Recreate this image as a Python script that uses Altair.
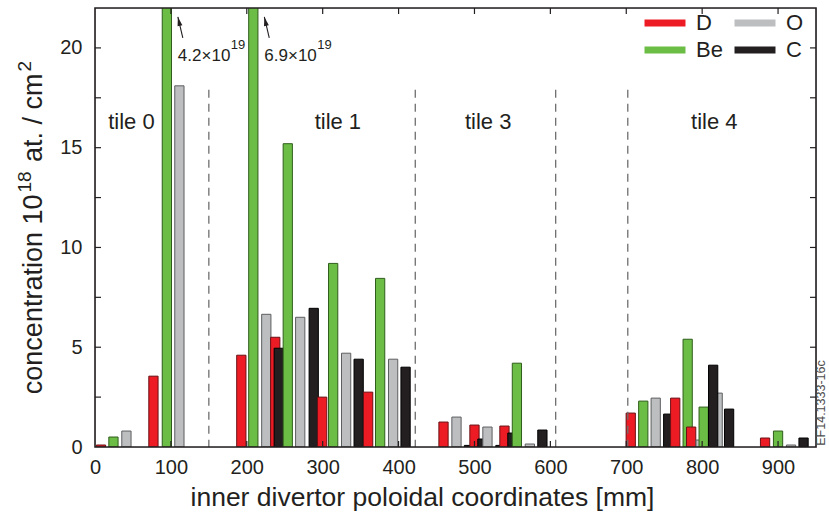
import altair as alt
import pandas as pd

# Species, in legend order (filled column by column: D/Be left, O/C right)
species = ["D", "Be", "O", "C"]
fill_colors = ["#ed1c24", "#6cbd45", "#bcbec0", "#231f20"]
edge_colors = ["#6b1014", "#2f5e1c", "#5d5e60", "#000000"]

# Poloidal position [mm] and areal concentration [1e18 at./cm^2]
d_pos = [7.9, 77.0, 192.8, 237.5, 299.3, 359.9, 459.2, 500.0, 539.5, 705.9, 764.5, 785.5, 882.9]
d_val = [0.1, 3.55, 4.6, 5.5, 2.5, 2.75, 1.25, 1.1, 1.05, 1.7, 2.45, 1.0, 0.45]
be_pos = [24.3, 94.7, 208.6, 254.0, 313.8, 375.7, 555.9, 722.4, 780.9, 802.0, 900.0]
be_val = [0.5, 42.0, 69.0, 15.2, 9.2, 8.45, 4.2, 2.3, 5.4, 2.0, 0.8]
o_pos = [41.4, 111.2, 225.7, 270.4, 330.9, 392.8, 476.3, 517.1, 573.0, 738.8, 798.0, 820.4, 917.1]
o_val = [0.8, 18.1, 6.65, 6.5, 4.7, 4.4, 1.5, 1.0, 0.15, 2.45, 0.35, 2.7, 0.1]
c_pos = [242.1, 288.2, 347.4, 409.2, 492.8, 510.5, 534.2, 550.0, 589.5, 755.3, 814.5, 835.5, 933.6]
c_val = [4.95, 6.95, 4.4, 4.0, 0.08, 0.4, 0.08, 0.7, 0.85, 1.65, 4.1, 1.9, 0.45]

# Tile boundaries and tile names
tile_bounds = [150, 422, 607, 702]
tile_names = ["tile 0", "tile 1", "tile 3", "tile 4"]
tile_centers = [48, 320, 518, 816]

# Axis ticks
x_ticks = [0, 100, 200, 300, 400, 500, 600, 700, 800, 900]
y_ticks = [0, 5, 10, 15, 20]
x_minor = [100, 200, 300, 400, 500, 600, 700, 800, 900]
y_minor = [2.5, 5, 7.5, 10, 12.5, 15, 17.5, 20]

# y title pieces: (text, superscript?, word space before it?)
y_title = [("concentration 10", False, False), ("18", True, False),
           ("at. / cm", False, True), ("2", True, False)]

W, H = 721, 439
FONT = "Liberation Sans"
INK = "#231f20"
HALF = 6.1  # half bar width in mm

# advance widths (per 1000 em) of the sans face, for laying out the y title
ADV = {"c": 500, "o": 556, "n": 556, "e": 556, "t": 278, "r": 333, "a": 556,
       "i": 222, " ": 278, "1": 556, "0": 556, "8": 556, ".": 278, "/": 278,
       "m": 833, "2": 556}

rows = []
for name, pos, val in [("D", d_pos, d_val), ("Be", be_pos, be_val),
                       ("O", o_pos, o_val), ("C", c_pos, c_val)]:
    for p, v in zip(pos, val):
        rows.append({"species": name, "pos": p, "val": v})
bars_df = pd.DataFrame(rows).sort_values("pos", kind="stable")
# carbon at 814.5 mm sits in front of its oxygen neighbour
front = (bars_df["species"] == "C") & (bars_df["pos"] == 814.5)
bars_df = pd.concat([bars_df[~front], bars_df[front]]).reset_index(drop=True)

xscale = alt.Scale(domain=[0, 950], nice=False, zero=False)
yscale = alt.Scale(domain=[0, 22], nice=False, zero=False)

bars = alt.Chart(bars_df).transform_calculate(
    left=f"datum.pos - {HALF}", right=f"datum.pos + {HALF}"
).mark_bar(clip=True, strokeWidth=1).encode(
    x=alt.X("left:Q", scale=xscale,
            axis=alt.Axis(values=x_ticks, ticks=False, domain=False, grid=False,
                          labelFont=FONT, labelFontSize=20, labelColor=INK,
                          labelPadding=10, labelFlush=False,
                          title="inner divertor poloidal coordinates [mm]",
                          titleFont=FONT, titleFontSize=26.5, titleFontWeight="normal",
                          titleColor=INK, titleX=327, titleY=50,
                          titleAlign="center", titleBaseline="middle")),
    x2="right:Q",
    y=alt.Y("val:Q", scale=yscale,
            axis=alt.Axis(values=y_ticks, ticks=False, domain=False, grid=False,
                          labelFont=FONT, labelFontSize=20, labelColor=INK,
                          labelPadding=13, title=None)),
    y2=alt.Y2(datum=0),
    fill=alt.Fill("species:N", scale=alt.Scale(domain=species, range=fill_colors),
                  legend=alt.Legend(title=None, orient="none", legendX=559, legendY=4,
                                    columns=2, symbolType="M-2,-0.35H2V0.35H-2Z",
                                    symbolSize=420, symbolStrokeWidth=0,
                                    labelFont=FONT, labelFontSize=22,
                                    labelColor=INK, labelOffset=20,
                                    symbolOffset=0, rowPadding=5, columnPadding=11,
                                    padding=0)),
    stroke=alt.Stroke("species:N", scale=alt.Scale(domain=species, range=edge_colors),
                      legend=None),
)

# y-axis title with real superscripts, set bottom-to-top
MAIN, SUP = 27, 19
GAP = 2
pieces = []
for s, sup, spaced in y_title:
    fs = SUP if sup else MAIN
    lead = ADV[" "] * MAIN / 1000 if spaced else 0
    pieces.append((s, fs, sup, lead, sum(ADV[ch] for ch in s) * fs / 1000))
total = sum(p[3] + p[4] for p in pieces) + GAP * (len(pieces) - 1)
start = H / 2 + total / 2
t_rows = []
for s, fs, sup, lead, w in pieces:
    start -= lead
    t_rows.append({"s": s, "fs": fs, "px": -64 if sup else -53, "py": start})
    start -= w + GAP
ytitle = alt.Chart(pd.DataFrame(t_rows)).mark_text(
    font=FONT, color=INK, angle=270, align="left", baseline="alphabetic"
).encode(x=alt.X("px:Q", scale=None), y=alt.Y("py:Q", scale=None),
         size=alt.Size("fs:Q", scale=None), text="s:N")

# dashed tile boundaries
dividers = alt.Chart(pd.DataFrame({"b": tile_bounds})).mark_rule(
    color="#6e6e6e", strokeWidth=1.3, strokeDash=[8, 6]
).encode(x=alt.X("b:Q", scale=xscale),
         y=alt.Y(datum=17.9, scale=yscale), y2=alt.Y2(datum=0))

labels = alt.Chart(pd.DataFrame({"t": tile_names, "c": tile_centers})).mark_text(
    font=FONT, fontSize=22, color=INK, baseline="middle", align="center"
).encode(x=alt.X("c:Q", scale=xscale),
         y=alt.Y(datum=16.3, scale=yscale), text="t:N")

# off-scale beryllium values noted next to their bars
big = bars_df[bars_df["val"] > 22].copy()
big["mant"] = [f"{v / 10:.1f}×10" for v in big["val"]]
big["expo"] = "19"
big["tail_x"] = big["pos"] + 21
big["tip_x"] = big["pos"] + 14.5
big["head_x"] = big["pos"] + 15.9

mant = alt.Chart(big).mark_text(
    font=FONT, fontSize=17, color=INK, align="left", baseline="alphabetic", dx=11
).encode(x=alt.X("pos:Q", scale=xscale),
         y=alt.Y(datum=19.35, scale=yscale), text="mant:N")
expo = alt.Chart(big).mark_text(
    font=FONT, fontSize=13, color=INK, align="left", baseline="alphabetic", dx=64
).encode(x=alt.X("pos:Q", scale=xscale),
         y=alt.Y(datum=19.95, scale=yscale), text="expo:N")
arrows = alt.Chart(big).mark_rule(color=INK, strokeWidth=1.1).encode(
    x=alt.X("tail_x:Q", scale=xscale), x2="tip_x:Q",
    y=alt.Y(datum=20.5, scale=yscale), y2=alt.Y2(datum=21.55))
heads = alt.Chart(big).mark_point(
    shape="M0,-1L0.55,1L-0.55,1Z", size=81, filled=True, color=INK,
    opacity=1, angle=346.6
).encode(x=alt.X("head_x:Q", scale=xscale),
         y=alt.Y(datum=21.33, scale=yscale))

# inward ticks on all four sides
tick_style = dict(color=INK, strokeWidth=1.2)
ydf = pd.DataFrame({"v": y_minor})
xdf = pd.DataFrame({"v": x_minor})
left_t = alt.Chart(ydf).mark_rule(**tick_style).encode(
    y=alt.Y("v:Q", scale=yscale), x=alt.value(0), x2=alt.value(6))
right_t = alt.Chart(ydf).mark_rule(**tick_style).encode(
    y=alt.Y("v:Q", scale=yscale), x=alt.value(W - 6), x2=alt.value(W))
bottom_t = alt.Chart(xdf).mark_rule(**tick_style).encode(
    x=alt.X("v:Q", scale=xscale), y=alt.value(H - 6), y2=alt.value(H))
top_t = alt.Chart(xdf).mark_rule(**tick_style).encode(
    x=alt.X("v:Q", scale=xscale), y=alt.value(0), y2=alt.value(6))

one = pd.DataFrame({"k": [0]})
frame = alt.Chart(one).mark_rect(
    fillOpacity=0, stroke=INK, strokeWidth=1.6
).encode(x=alt.value(0), x2=alt.value(W), y=alt.value(0), y2=alt.value(H))

stamp = alt.Chart(one).mark_text(
    font=FONT, fontSize=12.5, color="#4d4d4d", angle=270, align="center", baseline="middle"
).encode(x=alt.value(W + 5), y=alt.value(H - 44), text=alt.value("EF14.1333-16c"))

chart = alt.layer(
    bars, dividers, labels, mant, expo, arrows, heads,
    left_t, right_t, bottom_t, top_t, frame, stamp, ytitle
).properties(
    width=W, height=H,
    autosize=alt.AutoSizeParams(type="none"),
    padding={"left": 95, "top": 8, "right": 13, "bottom": 69},
).configure_view(stroke=None).configure(background="white")

chart.save("out.html", embed_options={"renderer": "svg", "actions": False})
